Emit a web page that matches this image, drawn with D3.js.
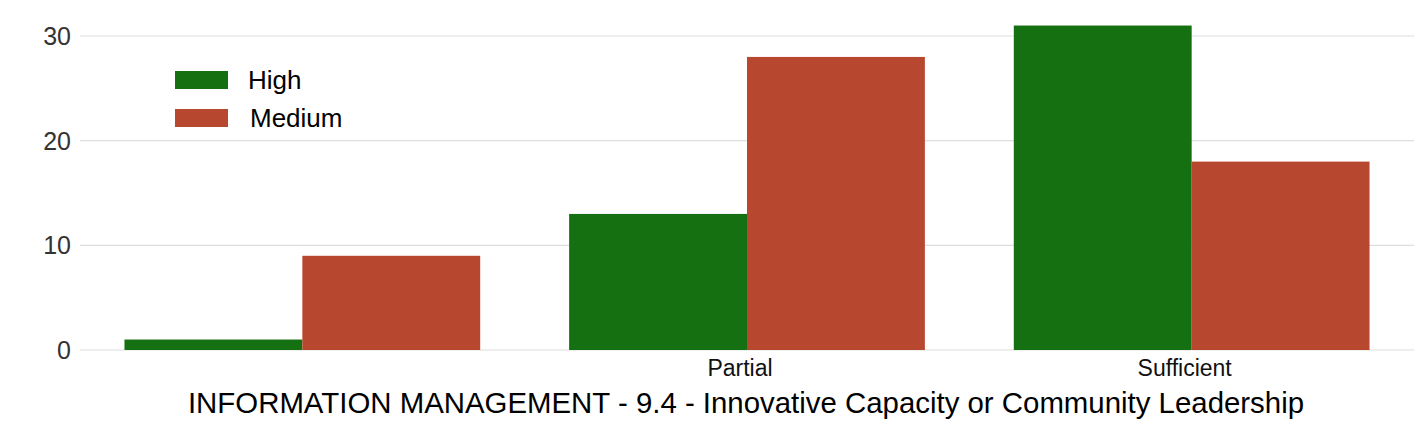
<!DOCTYPE html>
<html><head><meta charset="utf-8">
<script src="https://cdn.jsdelivr.net/npm/d3@7"></script>
<style>body{margin:0;background:#fff}svg{display:block}</style>
</head><body><svg id="c" width="1423" height="428"></svg>
<script>
const categories = ["", "Partial", "Sufficient"];
const seriesNames = ["High", "Medium"];
const highValues = [1, 13, 31];
const mediumValues = [9, 28, 18];
const yTicks = [0, 10, 20, 30];
const colors = ["#157012", "#b8472f"];
const title = "INFORMATION MANAGEMENT - 9.4 - Innovative Capacity or Community Leadership";

(function () {
const svg = d3.select("#c");
const mLeft = 80, mRight = 1414, mBottom = 350;
const x = d3.scaleBand().domain(categories).range([mLeft, mRight]).paddingInner(0.2).paddingOuter(0.1);
const xs = d3.scaleBand().domain(seriesNames).range([0, x.bandwidth()]);
const y = d3.scaleLinear().domain([0, 30]).range([mBottom, mBottom - 314]);

svg.append("g").selectAll("line").data(yTicks).join("line")
  .attr("x1", mLeft).attr("x2", mRight)
  .attr("y1", d => y(d)).attr("y2", d => y(d))
  .attr("stroke", "#dddddd").attr("stroke-width", 1.2);

svg.append("g").selectAll("text").data(yTicks).join("text")
  .attr("x", 71).attr("y", d => y(d)).attr("dy", "0.36em")
  .attr("text-anchor", "end").attr("font-family", "'Liberation Sans', Arial, sans-serif")
  .attr("font-size", 25).attr("fill", "#333").text(d => d);

const data = categories.map((c, i) => ({c, vals: [highValues[i], mediumValues[i]]}));
const g = svg.append("g").selectAll("g").data(data).join("g")
  .attr("transform", d => `translate(${x(d.c)},0)`);
g.selectAll("rect").data(d => d.vals.map((v, j) => ({v, s: seriesNames[j], j}))).join("rect")
  .attr("x", d => xs(d.s)).attr("width", xs.bandwidth())
  .attr("y", d => y(d.v)).attr("height", d => y(0) - y(d.v))
  .attr("fill", d => colors[d.j]);

svg.append("g").selectAll("text").data(categories).join("text")
  .attr("x", d => x(d) + x.bandwidth() / 2 - 7).attr("y", 376)
  .attr("text-anchor", "middle").attr("font-family", "'Liberation Sans', Arial, sans-serif")
  .attr("font-size", 23).attr("fill", "#111").text(d => d);

svg.append("text").attr("x", 746).attr("y", 413).attr("text-anchor", "middle")
  .attr("font-family", "'Liberation Sans', Arial, sans-serif").attr("font-size", 29.4)
  .attr("fill", "#000").text(title);

const lg = svg.append("g").selectAll("g").data(seriesNames).join("g")
  .attr("transform", (d, i) => `translate(175,${71 + i * 38})`);
lg.append("rect").attr("width", 53).attr("height", 18).attr("fill", (d, i) => colors[i]);
lg.append("text").attr("x", (d, i) => i === 0 ? 73 : 75).attr("y", 18)
  .attr("font-family", "'Liberation Sans', Arial, sans-serif").attr("font-size", 26)
  .attr("fill", "#000").text(d => d);
})();
</script></body></html>
